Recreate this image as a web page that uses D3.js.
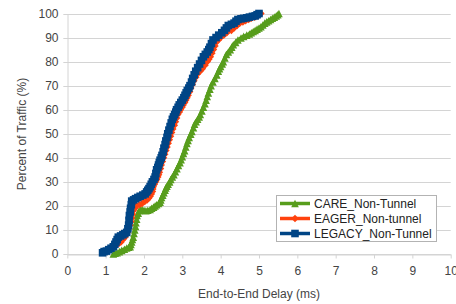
<!DOCTYPE html>
<html>
<head>
<meta charset="utf-8">
<script src="https://cdn.jsdelivr.net/npm/d3@7"></script>
<style>
  body { margin: 0; background: #fff; }
  text { font-family: "Liberation Sans", Arial, sans-serif; }
</style>
</head>
<body>
<svg id="chart" width="456" height="304"></svg>
<script>
const width = 456;
const height = 304;

// DATA: [delay in ms, percent of traffic]
const care = [
  [1.2,0],[1.25,0.3],[1.3,0.5],[1.36,1],[1.42,1.5],[1.49,2],[1.55,2.5],[1.6,2.8],[1.64,3],[1.66,4],
  [1.68,5],[1.7,6],[1.72,7],[1.74,8.5],[1.76,10],[1.78,11.5],[1.79,13],[1.81,14.5],[1.82,16],[1.85,17],
  [1.87,18],[1.91,18.3],[1.95,18.5],[2.0,18.2],[2.05,18],[2.1,18.2],[2.16,18.5],[2.2,19],[2.25,19.5],[2.29,20],
  [2.33,20.5],[2.38,21],[2.42,21.5],[2.44,22.5],[2.46,23.5],[2.49,24.5],[2.52,25.5],[2.55,26.5],[2.57,27.5],[2.6,28.2],
  [2.63,29],[2.67,30],[2.7,31],[2.74,32],[2.78,33],[2.82,34.2],[2.86,35.5],[2.9,36.8],[2.94,38],[2.97,39.2],
  [3.0,40.5],[3.03,41.8],[3.06,43],[3.09,44.5],[3.12,46],[3.15,47.2],[3.18,48.5],[3.22,49.8],[3.25,51],[3.29,52.5],
  [3.32,54],[3.36,55],[3.4,56],[3.44,57],[3.47,58],[3.51,59.5],[3.55,61],[3.59,62.5],[3.62,64],[3.65,65.5],
  [3.68,67],[3.72,68.5],[3.75,70],[3.8,71.5],[3.85,73],[3.9,74.5],[3.94,76],[3.97,77],[4.0,78],[4.04,79],
  [4.07,80],[4.11,81.5],[4.15,83],[4.2,84],[4.25,85],[4.29,86],[4.33,87],[4.39,88],[4.45,89],[4.53,89.8],
  [4.6,90.5],[4.68,91],[4.75,91.5],[4.8,92],[4.85,92.5],[4.9,93],[4.95,93.5],[5.0,94],[5.05,94.5],[5.1,95.2],
  [5.15,96],[5.2,96.5],[5.25,97],[5.3,97.5],[5.35,98],[5.4,98.5],[5.45,99],[5.49,99.5],[5.52,100]
];
const eager = [
  [1.0,1],[1.05,1.5],[1.1,2],[1.15,2.5],[1.2,3],[1.25,3.5],[1.3,4],[1.35,4.5],[1.4,5],[1.45,6],
  [1.5,7],[1.54,8],[1.57,9],[1.6,10.5],[1.63,12],[1.66,13.5],[1.68,15],[1.7,16.5],[1.72,18],[1.76,19],
  [1.8,20],[1.88,20.5],[1.95,21],[2.02,21.8],[2.08,22.5],[2.12,23.2],[2.16,24],[2.19,25],[2.22,26],[2.23,27],
  [2.24,28],[2.27,29],[2.3,30],[2.33,31],[2.36,32],[2.38,33],[2.4,34],[2.43,35.5],[2.45,37],[2.48,38.5],
  [2.51,40],[2.54,41.5],[2.57,43],[2.6,44.5],[2.63,46],[2.66,47.5],[2.69,49],[2.72,50.5],[2.75,52],[2.79,53.5],
  [2.82,55],[2.85,56.5],[2.88,58],[2.92,59],[2.95,60],[2.99,61],[3.02,62],[3.06,63],[3.09,64],[3.12,65],
  [3.15,66],[3.19,67.5],[3.22,69],[3.26,70.5],[3.3,72],[3.35,73.5],[3.4,75],[3.46,76],[3.52,77],[3.59,78.5],
  [3.65,80],[3.69,81],[3.73,82],[3.77,83.5],[3.81,85],[3.85,86.5],[3.88,88],[3.94,89],[4.0,90],[4.08,91],
  [4.16,92],[4.28,93],[4.35,94],[4.43,95],[4.5,96],[4.58,96.5],[4.65,97],[4.73,97.5],[4.8,98],[4.88,98.5],
  [4.95,99],[5.0,99.5],[5.05,100]
];
const legacy = [
  [0.92,0.5],[0.96,1],[1.02,1.2],[1.08,1.8],[1.14,2.4],[1.2,3],[1.24,4],[1.27,5],[1.3,6],[1.33,7],
  [1.39,7.5],[1.45,8],[1.5,8.5],[1.55,9],[1.58,10.5],[1.6,12],[1.61,14],[1.62,16],[1.64,17.5],[1.65,19],
  [1.67,20.5],[1.68,22],[1.73,22.5],[1.78,23],[1.84,23.5],[1.9,24],[1.97,24.5],[2.03,25],[2.07,25.8],[2.1,26.5],
  [2.13,27.2],[2.16,28],[2.19,29],[2.22,30],[2.26,31],[2.29,32],[2.31,33.5],[2.33,35],[2.36,36],[2.38,37],
  [2.4,38],[2.42,39],[2.45,40],[2.47,41],[2.5,42.5],[2.52,44],[2.55,45.5],[2.57,47],[2.6,48.5],[2.62,50],
  [2.65,51.5],[2.68,53],[2.71,54.5],[2.74,56],[2.77,57],[2.8,58],[2.83,59],[2.85,60],[2.89,61],[2.92,62],
  [2.96,63],[3.0,64],[3.04,65],[3.07,66],[3.1,67],[3.13,68],[3.17,69],[3.2,70],[3.24,71.5],[3.27,73],
  [3.31,74.5],[3.35,76],[3.4,77.5],[3.45,79],[3.5,80.5],[3.55,82],[3.6,83],[3.65,84],[3.69,85],[3.72,86],
  [3.76,87.5],[3.8,89],[3.88,90],[3.95,91],[4.03,92],[4.1,93],[4.15,94],[4.2,95],[4.28,95.5],[4.35,96],
  [4.4,96.8],[4.45,97.5],[4.53,97.8],[4.6,98],[4.68,98.2],[4.75,98.5],[4.83,98.8],[4.9,99],[4.95,99.5],[5.0,100]
];

const seriesNames = ["CARE_Non-Tunnel", "EAGER_Non-tunnel", "LEGACY_Non-Tunnel"];
const seriesColors = ["#579d1c", "#ff420e", "#004586"];
const seriesShapes = ["triangle", "diamond", "square"];
const seriesData = [care, eager, legacy];

const xTicks = [0, 1, 2, 3, 4, 5, 6, 7, 8, 9, 10];
const yTicks = [0, 10, 20, 30, 40, 50, 60, 70, 80, 90, 100];

const svg = d3.select("#chart");

// SCALES
const x = d3.scaleLinear().domain([0, 10]).range([67.3, 450.7]);
const y = d3.scaleLinear().domain([0, 100]).range([254, 13.5]);

// GRID LINES
svg.append("g").selectAll("line")
  .data(yTicks)
  .enter()
  .append("line")
    .attr("x1", x(0) - 4)
    .attr("x2", x(10))
    .attr("y1", function(d){ return Math.round(y(d)) + 0.5; })
    .attr("y2", function(d){ return Math.round(y(d)) + 0.5; })
    .attr("stroke", "#d4d4d4")
    .attr("stroke-width", 1);

// X AXIS
const xAxis = svg.append("g")
  .attr("transform", `translate(0, ${Math.round(y(0)) + 0.5})`)
  .call(d3.axisBottom(x).tickValues(xTicks).tickSize(4).tickPadding(8).tickSizeOuter(0));
xAxis.select(".domain").attr("stroke", "#d4d4d4");
xAxis.selectAll(".tick line").attr("stroke", "#d4d4d4");
xAxis.selectAll(".tick text")
  .attr("font-family", "Liberation Sans, Arial, sans-serif")
  .attr("font-size", 12)
  .attr("fill", "#444");

// Y AXIS
const yAxis = svg.append("g")
  .attr("transform", `translate(${Math.round(x(0)) + 0.5}, 0)`)
  .call(d3.axisLeft(y).tickValues(yTicks).tickSize(0).tickPadding(9).tickSizeOuter(0));
yAxis.select(".domain").attr("stroke", "#d4d4d4");
yAxis.selectAll(".tick text")
  .attr("font-family", "Liberation Sans, Arial, sans-serif")
  .attr("font-size", 12)
  .attr("fill", "#444");

// AXIS TITLES
svg.append("text")
  .attr("x", 259)
  .attr("y", 298)
  .attr("text-anchor", "middle")
  .attr("font-size", 12)
  .attr("fill", "#444")
  .text("End-to-End Delay (ms)");

svg.append("text")
  .attr("transform", "translate(26, 134) rotate(-90)")
  .attr("text-anchor", "middle")
  .attr("font-size", 12)
  .attr("fill", "#444")
  .text("Percent of Traffic (%)");

// MARKER SHAPES
const markerPath = function(shape, s){
  if (shape === "square") return `M${-s},${-s}H${s}V${s}H${-s}Z`;
  if (shape === "diamond") return `M0,${-s}L${s},0L0,${s}L${-s},0Z`;
  return `M0,${-s}L${s},${s}L${-s},${s}Z`;
};

// SERIES
const line = d3.line()
  .x(function(d){ return x(d[0]); })
  .y(function(d){ return y(d[1]); });

seriesData.forEach(function(data, i){
  const g = svg.append("g");
  g.append("path")
    .datum(data)
    .attr("d", line)
    .attr("fill", "none")
    .attr("stroke", seriesColors[i])
    .attr("stroke-width", 3.5)
    .attr("stroke-linejoin", "round");
  g.selectAll("path.marker")
    .data(data)
    .enter()
    .append("path")
      .attr("class", "marker")
      .attr("d", markerPath(seriesShapes[i], 3.8))
      .attr("transform", function(d){ return `translate(${x(d[0])}, ${y(d[1])})`; })
      .attr("fill", seriesColors[i]);
});

// LEGEND
const legend = svg.append("g");
legend.append("rect")
  .attr("x", 276.5)
  .attr("y", 195.5)
  .attr("width", 160)
  .attr("height", 46)
  .attr("fill", "#fff")
  .attr("stroke", "#b3b3b3");

seriesNames.forEach(function(name, i){
  const ly = 203.5 + i * 15;
  legend.append("line")
    .attr("x1", 280)
    .attr("x2", 310)
    .attr("y1", ly)
    .attr("y2", ly)
    .attr("stroke", seriesColors[i])
    .attr("stroke-width", 3.5);
  legend.append("path")
    .attr("d", markerPath(seriesShapes[i], 3.8))
    .attr("transform", `translate(295, ${ly})`)
    .attr("fill", seriesColors[i]);
  legend.append("text")
    .attr("x", 314)
    .attr("y", ly + 4)
    .attr("font-size", 12)
    .attr("fill", "#222")
    .text(name);
});
</script>
</body>
</html>
